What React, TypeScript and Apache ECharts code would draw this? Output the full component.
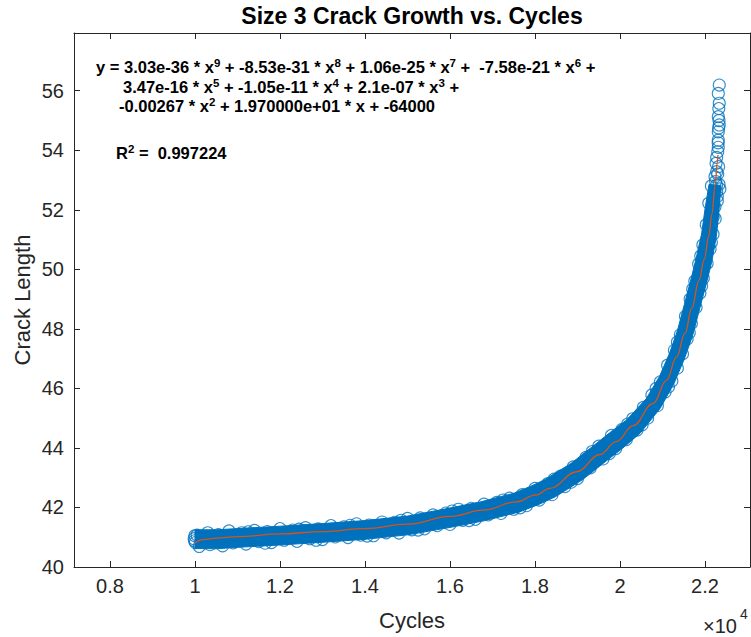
import React, { useEffect, useRef } from 'react';
import * as echarts from 'echarts';

const BLUE = '#0072BD';
const RED = '#D95319';
const AXIS = '#262626';
const FONT = "'Liberation Sans', Arial, Helvetica, sans-serif";

const titleText = 'Size 3 Crack Growth vs. Cycles';
const xName = 'Cycles';
const yName = 'Crack Length';

const xTicks = [8000, 10000, 12000, 14000, 16000, 18000, 20000, 22000];
const yTicks = [40, 42, 44, 46, 48, 50, 52, 54, 56];

// polynomial fit curve
const fitCycles = [10000, 10200, 10490, 11000, 12000, 13000, 14000, 15000, 16000, 16780, 17570, 18020, 18350, 18980, 19530, 19920, 20310, 20780, 21100, 21330, 21530, 21690, 21860, 21980, 22090, 22160, 22240, 22285, 22305];
const fitLength = [40.82, 40.92, 40.97, 41.02, 41.11, 41.19, 41.29, 41.44, 41.70, 41.91, 42.19, 42.42, 42.64, 43.20, 43.78, 44.22, 44.75, 45.50, 46.28, 47.06, 47.85, 48.70, 49.64, 50.33, 51.12, 51.85, 52.83, 53.55, 53.84];

// outline of the dense, fully overlapping cloud of measured points
const bandUpper: [number, number][] = [
  [10000, 41.25], [10494, 41.25], [11000, 41.29], [12000, 41.37], [13000, 41.46], [14000, 41.56], [15000, 41.71],
  [15958, 41.97], [16725, 42.19], [17506, 42.48], [17929, 42.73], [18238, 42.94], [18847, 43.48], [19383, 44.08],
  [19776, 44.53], [20155, 44.94], [20621, 45.66], [20929, 46.40], [21160, 47.16], [21350, 47.93], [21513, 48.81],
  [21678, 49.71], [21792, 50.37], [21920, 51.19], [22000, 52.02], [22094, 52.85],
];
const bandLower: [number, number][] = [
  [10000, 40.62], [10494, 40.61], [11000, 40.66], [12000, 40.74], [13000, 40.83], [14000, 40.93], [15000, 41.08],
  [16042, 41.34], [16828, 41.56], [17633, 41.85], [18103, 42.11], [18468, 42.35], [19115, 42.93], [19675, 43.56],
  [20068, 44.00], [20471, 44.49], [20946, 45.33], [21268, 46.16], [21508, 46.97], [21708, 47.77], [21875, 48.68],
  [22040, 49.57], [22160, 50.26], [22268, 51.11], [22329, 51.96], [22376, 52.82],
];

// individual measured points visible as open circles (edges of the cloud and the sparse tail)
const edgeUpperPts: [number, number][] = [
  [10050, 41.07], [10300, 41.15], [10550, 41.09], [10800, 41.21], [11100, 41.15], [11250, 41.18], [11400, 41.23],
  [11700, 41.19], [12000, 41.29], [12300, 41.24], [12450, 41.27], [12600, 41.32], [12900, 41.28], [13200, 41.39],
  [13500, 41.35], [13650, 41.40], [13800, 41.45], [14100, 41.41], [14400, 41.51], [14700, 41.50], [14850, 41.57],
  [15000, 41.63], [15300, 41.65], [15600, 41.75], [15900, 41.81], [16050, 41.88], [16200, 41.94], [16500, 41.97],
  [16800, 42.11], [17100, 42.17], [17250, 42.25], [17400, 42.31], [17700, 42.43], [18000, 42.64], [18300, 42.80],
  [18450, 42.95], [18600, 43.05], [18900, 43.36], [19200, 43.68], [19350, 43.88], [19500, 44.06], [19800, 44.42],
  [20050, 44.62], [20180, 44.80], [20300, 44.98], [20550, 45.36], [20750, 45.78], [20850, 46.00], [20950, 46.22],
  [21120, 46.78], [21280, 47.28], [21350, 47.55], [21420, 47.80], [21540, 48.42], [21650, 49.00], [21710, 49.33],
  [21760, 49.60], [21850, 50.18], [21900, 50.45], [21950, 50.82], [22030, 51.50], [22090, 52.22], [22150, 52.80],
];
const edgeLowerPts: [number, number][] = [
  [10100, 40.69], [10350, 40.75], [10650, 40.71], [10900, 40.81], [11200, 40.77], [11500, 40.85], [11650, 40.80],
  [11800, 40.82], [12100, 40.90], [12400, 40.86], [12700, 40.95], [12850, 40.90], [13000, 40.92], [13300, 41.01],
  [13600, 40.99], [13900, 41.07], [14050, 41.04], [14200, 41.05], [14500, 41.15], [14800, 41.14], [15100, 41.25],
  [15250, 41.24], [15400, 41.28], [15700, 41.39], [16000, 41.43], [16300, 41.57], [16450, 41.56], [16600, 41.60],
  [16900, 41.75], [17200, 41.80], [17500, 41.94], [17650, 41.99], [17800, 42.06], [18100, 42.25], [18400, 42.43],
  [18700, 42.70], [18850, 42.85], [19000, 42.97], [19300, 43.33], [19600, 43.63], [19750, 43.81], [19900, 43.98],
  [20150, 44.28], [20400, 44.60], [20520, 44.78], [20650, 45.00], [20880, 45.42], [21060, 45.88], [21140, 46.05],
  [21220, 46.25], [21350, 46.68], [21470, 47.16], [21580, 47.66], [21630, 47.87], [21680, 48.18], [21790, 48.72],
  [21880, 49.20], [21920, 49.44], [21960, 49.70], [22050, 50.20], [22120, 50.68], [22150, 50.90], [22190, 51.18],
  [22240, 51.70], [22290, 52.30], [22330, 52.85],
];
const startPts: [number, number][] = [[9980, 40.95], [10000, 41.05], [10010, 40.82], [9990, 40.88]];
const tailPts: [number, number][] = [
  [22336, 56.19], [22313, 55.91], [22336, 55.58], [22325, 55.40], [22313, 55.13], [22330, 55.00], [22336, 54.85],
  [22320, 54.75], [22313, 54.62], [22313, 54.34], [22310, 54.25], [22313, 54.10], [22300, 53.95], [22275, 53.76],
  [22260, 53.56], [22320, 53.45], [22275, 53.28], [22300, 53.20], [22235, 53.11], [22250, 52.95], [22275, 52.83],
  [22350, 52.70], [22275, 52.61], [22290, 52.45], [22195, 52.33], [22235, 52.10], [22195, 51.77], [22157, 51.55],
];

const eqLine1 = '{n|y = 3.03e-36 * x}{s|9}{n| + -8.53e-31 * x}{s|8}{n| + 1.06e-25 * x}{s|7}{n| +  -7.58e-21 * x}{s|6}{n| +}';
const eqLine2 = '{n|3.47e-16 * x}{s|5}{n| + -1.05e-11 * x}{s|4}{n| + 2.1e-07 * x}{s|3}{n| +}';
const eqLine3 = '{n|-0.00267 * x}{s|2}{n| + 1.970000e+01 * x + -64000}';
const r2Line = '{n|R}{s|2}{n| =  0.997224}';

export default function App() {
  const ref = useRef<HTMLDivElement>(null);
  useEffect(() => {
    if (!ref.current) return;
    const chart = echarts.init(ref.current, undefined, { renderer: 'svg' });
    const eqRich = {
      n: { fontSize: 16.5, fontWeight: 'bold', fontFamily: FONT, fill: '#000', lineHeight: 20 },
      s: { fontSize: 11.5, fontWeight: 'bold', fontFamily: FONT, fill: '#000', lineHeight: 12, verticalAlign: 'top' },
    };
    const polygon = [...bandUpper, ...bandLower.slice().reverse()];
    const points = [...startPts, ...edgeUpperPts, ...edgeLowerPts, ...tailPts];
    const xMin = 7153, xMax = 23059, yMin = 40, yMax = 57.94;
    const grid = { left: 74, top: 33, width: 676, height: 534 };
    const baseAxis = {
      axisLine: { show: true, lineStyle: { color: AXIS, width: 1 } },
      splitLine: { show: false },
    };
    chart.setOption({
      animation: false,
      grid,
      xAxis: [
        {
          ...baseAxis, type: 'value', position: 'bottom', min: xMin, max: xMax,
          axisTick: { show: true, inside: true, length: 6, lineStyle: { color: AXIS }, customValues: xTicks },
          axisLabel: {
            show: true, customValues: xTicks, margin: 9, color: AXIS, fontSize: 20, fontFamily: FONT,
            formatter: (v: number) => String(Math.round(v / 1000) / 10),
          },
        },
        {
          ...baseAxis, type: 'value', position: 'top', min: xMin, max: xMax,
          axisTick: { show: true, inside: true, length: 6, lineStyle: { color: AXIS }, customValues: xTicks },
          axisLabel: { show: false, customValues: xTicks },
        },
      ],
      yAxis: [
        {
          ...baseAxis, type: 'value', position: 'left', min: yMin, max: yMax,
          axisTick: { show: true, inside: true, length: 6, lineStyle: { color: AXIS }, customValues: yTicks },
          axisLabel: { show: true, customValues: yTicks, margin: 10, color: AXIS, fontSize: 20, fontFamily: FONT },
        },
        {
          ...baseAxis, type: 'value', position: 'right', min: yMin, max: yMax,
          axisTick: { show: true, inside: true, length: 6, lineStyle: { color: AXIS }, customValues: yTicks },
          axisLabel: { show: false, customValues: yTicks },
        },
      ],
      series: [
        {
          type: 'custom',
          name: 'cloud',
          xAxisIndex: 0, yAxisIndex: 0,
          data: [[xMin, yMin]],
          silent: true,
          renderItem: (_p: any, api: any) => ({
            type: 'polygon',
            shape: { points: polygon.map((pt) => api.coord(pt)) },
            style: { fill: BLUE, stroke: BLUE, lineWidth: 1 },
          }),
        },
        {
          type: 'scatter',
          name: 'data',
          xAxisIndex: 0, yAxisIndex: 0,
          data: points,
          symbol: 'circle',
          symbolSize: 12,
          itemStyle: { color: 'rgba(0,0,0,0)', borderColor: BLUE, borderWidth: 1.1 },
          silent: true,
        },
        {
          type: 'line',
          name: 'fit',
          xAxisIndex: 0, yAxisIndex: 0,
          data: fitCycles.map((c, i) => [c, fitLength[i]]),
          showSymbol: false,
          smooth: 0.4,
          smoothMonotone: 'x',
          lineStyle: { color: RED, width: 1.3 },
          silent: true,
        },
      ],
      graphic: [
        {
          type: 'text', x: 412, y: 16,
          style: { text: titleText, fontSize: 23, fontWeight: 'bold', fontFamily: FONT, fill: '#000', align: 'center', verticalAlign: 'middle' },
        },
        {
          type: 'text', x: 412, y: 620,
          style: { text: xName, fontSize: 22, fontFamily: FONT, fill: AXIS, align: 'center', verticalAlign: 'middle' },
        },
        {
          type: 'text', x: 22, y: 300, rotation: Math.PI / 2,
          style: { text: yName, fontSize: 22, fontFamily: FONT, fill: AXIS, align: 'center', verticalAlign: 'middle' },
        },
        {
          type: 'text', x: 703, y: 626,
          style: { text: '×10', fontSize: 20, fontFamily: FONT, fill: AXIS, align: 'left', verticalAlign: 'middle' },
        },
        {
          type: 'text', x: 740, y: 614,
          style: { text: '4', fontSize: 14, fontFamily: FONT, fill: AXIS, align: 'left', verticalAlign: 'middle' },
        },
        { type: 'text', x: 96, y: 67, style: { text: eqLine1, rich: eqRich, align: 'left', verticalAlign: 'middle' } },
        { type: 'text', x: 123, y: 87, style: { text: eqLine2, rich: eqRich, align: 'left', verticalAlign: 'middle' } },
        { type: 'text', x: 119, y: 106, style: { text: eqLine3, rich: eqRich, align: 'left', verticalAlign: 'middle' } },
        { type: 'text', x: 116, y: 153, style: { text: r2Line, rich: eqRich, align: 'left', verticalAlign: 'middle' } },
      ],
    });
    return () => chart.dispose();
  }, []);
  return (
    <div
      ref={ref}
      style={{ position: 'absolute', left: 0, top: 0, width: 751, height: 637, background: '#fff' }}
    />
  );
}
